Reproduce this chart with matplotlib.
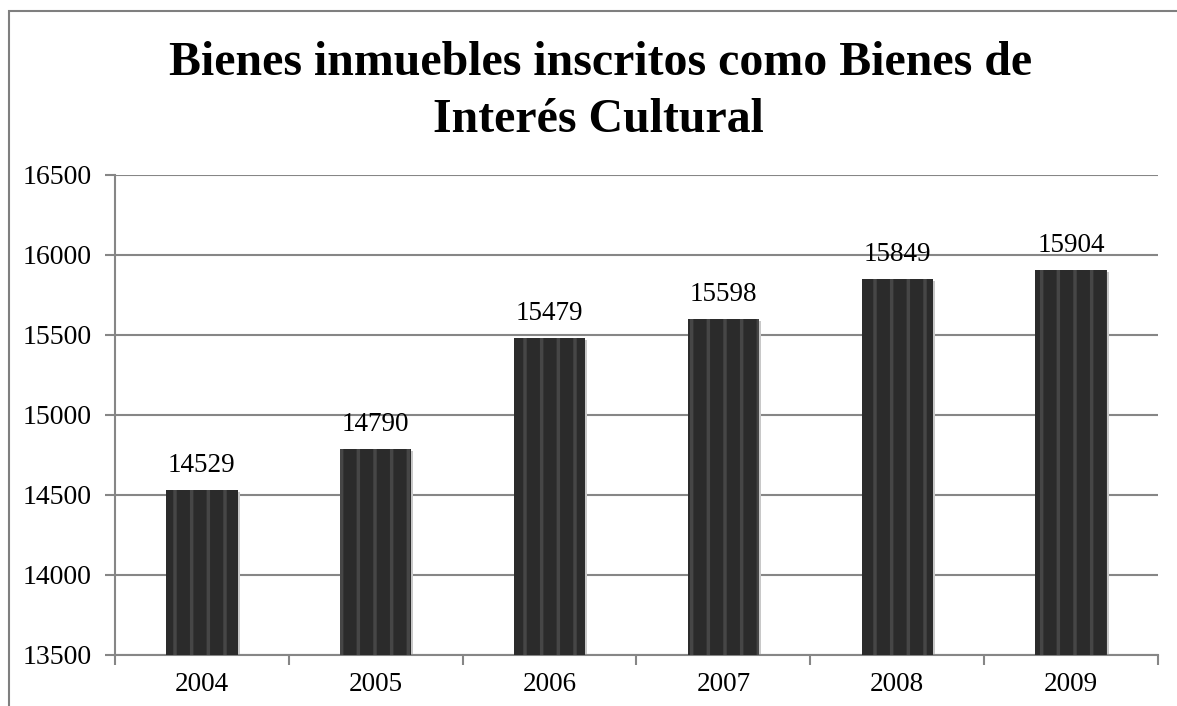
import matplotlib.pyplot as plt
import matplotlib.transforms as mtransforms
from matplotlib.patches import Rectangle

years = ['2004', '2005', '2006', '2007', '2008', '2009']
values = [14529, 14790, 15479, 15598, 15849, 15904]
y_ticks = [13500, 14000, 14500, 15000, 15500, 16000, 16500]

plt.rcParams['font.family'] = ['Liberation Serif', 'DejaVu Serif']
plt.rcParams['hatch.linewidth'] = 2.5

fig = plt.figure(figsize=(11.77, 7.06), dpi=100)
W, H = 1177, 706
ax = fig.add_axes([115 / W, 1 - 655 / H, (1158 - 115) / W, (655 - 175) / H])

# outer chart border (left and top only visible)
fig.patches.append(Rectangle((9 / W, -0.1), 1.2, 1 - 11 / H + 0.1, transform=fig.transFigure,
                             fill=False, edgecolor='#7f7f7f', linewidth=1.5))

x = list(range(len(years)))
# soft shadow behind bars
shadow = mtransforms.offset_copy(ax.transData, fig=fig, x=2, y=-2, units='dots')
ax.bar(x, values, width=0.41, color='#c8c8c8', linewidth=0, zorder=2, transform=shadow)
bars = ax.bar(x, values, width=0.41, color='#2b2b2b', hatch='|', edgecolor='#464646',
              linewidth=0, zorder=3)

for xi, v in zip(x, values):
    ax.text(xi, v + 75, str(v), ha='center', va='bottom', fontsize=19.5, zorder=4)

ax.set_ylim(13500, 16500)
ax.set_xlim(-0.5, len(years) - 0.5)
ax.set_yticks(y_ticks)
ax.set_yticklabels([str(t) for t in y_ticks], fontsize=20)
ax.yaxis.grid(True, color='#868686', linewidth=1.5, zorder=0)

ax.set_xticks(x)
ax.set_xticklabels(years, fontsize=19.5)
ax.tick_params(axis='x', which='major', length=0, pad=12)
ax.set_xticks([i - 0.5 for i in range(len(years) + 1)], minor=True)
ax.tick_params(axis='x', which='minor', length=7, width=1.5, color='#868686', direction='out')
ax.tick_params(axis='y', length=7, width=1.5, color='#868686', pad=10)

for s in ['top', 'right']:
    ax.spines[s].set_visible(False)
for s in ['left', 'bottom']:
    ax.spines[s].set_color('#868686')
    ax.spines[s].set_linewidth(1.5)

fig.text(601 / W, 1 - 75 / H, 'Bienes inmuebles inscritos como Bienes de',
         ha='center', va='baseline', fontsize=34.5, fontweight='bold')
fig.text(598 / W, 1 - 132 / H, 'Interés Cultural',
         ha='center', va='baseline', fontsize=34.5, fontweight='bold')

fig.savefig('out.png', dpi=100)
